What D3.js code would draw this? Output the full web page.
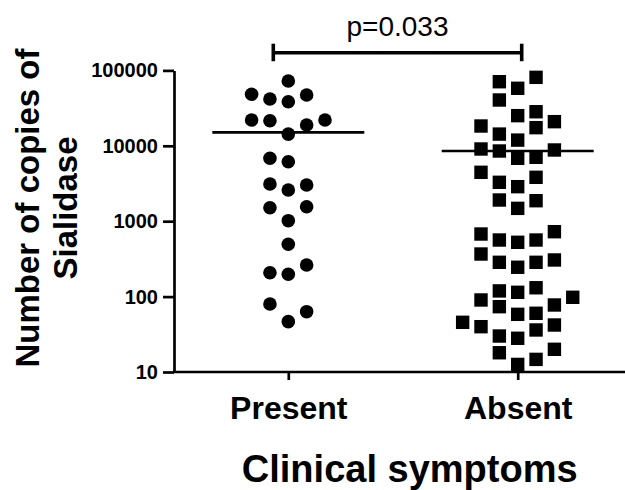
<!DOCTYPE html>
<html><head><meta charset="utf-8">
<script src="https://cdn.jsdelivr.net/npm/d3@7"></script>
<style>
body{margin:0;background:#fff;}
svg{display:block;}
text{font-family:"Liberation Sans",Arial,Helvetica,sans-serif;}
</style>
</head><body>
<script>
// ---- data ----
const categories = ["Present", "Absent"];
const presentValues = [72300, 48200, 41800, 38400, 47200, 22000, 21500, 18900, 22000, 14300,
  6830, 6150, 3110, 2590, 3020, 1510, 1016, 1556, 494, 207, 198, 262, 79.8, 46.5, 63.1];
const presentSlots = [0, -2, -1, 0, 1, -2, -1, 1, 2, 0,
  -1, 0, -1, 0, 1, -1, 0, 1, 0, -1, 0, 1, -1, 0, 1];
const absentValues = [70800, 57900, 80900, 40500, 25100, 28300, 20900, 18300, 14300, 17400,
  11900, 9070, 8530, 6830, 7040, 8800, 4450, 3280, 2870, 3820,
  1910, 1480, 1870, 676, 563, 525, 563, 726, 367, 285,
  245, 285, 306, 119, 114, 131, 90.2, 97.9, 73.5, 58.2,
  60.1, 77.4, 45.6, 39.9, 30.0, 28.0, 36.1, 42.0, 18.0, 12.6,
  14.7, 20.0];
const absentSlots = [-1, 0, 1, -1, 0, 1, 2, -2, -1, 1,
  0, -2, -1, 0, 1, 2, -2, -1, 0, 1,
  -1, 0, 1, -2, -1, 0, 1, 2, -2, -1,
  0, 1, 2, -1, 0, 1, -2, 3, -1, 0,
  1, 2, -3, -2, -1, 0, 1, 2, -1, 0,
  1, 2];
const meanValues = [15100, 8530];
const yTickValues = [10, 100, 1000, 10000, 100000];
const yTickLabels = ["10", "100", "1000", "10000", "100000"];
const pValueLabel = "p=0.033";
const xTitle = "Clinical symptoms";
const yTitleLines = ["Number of copies of", "Sialidase"];

// ---- layout ----
const W = 625, H = 490;
const svg = d3.select("body").append("svg").attr("width", W).attr("height", H);

const y = d3.scaleLog().domain([10, 100000]).range([372, 70.4]);
const x = d3.scalePoint().domain(categories).range([288.3, 517.7]);
const slot = d3.scaleLinear().domain([0, 1]).range([0, 18.35]);
const axisX0 = 174;

// Y axis
const yAxis = d3.axisLeft(y).tickValues(yTickValues)
  .tickFormat((d, i) => yTickLabels[i]).tickSize(11).tickSizeOuter(0).tickPadding(5);
const gy = svg.append("g").attr("transform", `translate(${axisX0},0)`).call(yAxis);
gy.select(".domain").attr("stroke", "#000").attr("stroke-width", 2.7);
gy.selectAll(".tick line").attr("stroke", "#000").attr("stroke-width", 2.7);
gy.selectAll(".tick text").attr("font-size", 20).attr("font-weight", "bold")
  .attr("fill", "#000").attr("font-family", '"Liberation Sans",Arial,sans-serif');

// X axis
svg.append("line").attr("x1", axisX0 - 1.3).attr("x2", W).attr("y1", y(10)).attr("y2", y(10))
  .attr("stroke", "#000").attr("stroke-width", 2.7);
const xAxis = d3.axisBottom(x).tickSize(8).tickSizeOuter(0);
const gx = svg.append("g").attr("transform", `translate(0,${y(10)})`).call(xAxis);
gx.select(".domain").remove();
gx.selectAll(".tick line").attr("stroke", "#000").attr("stroke-width", 2.7);
gx.selectAll(".tick text").attr("font-size", 32).attr("font-weight", "bold")
  .attr("fill", "#000").attr("y", 47.3).attr("dy", 0)
  .attr("font-family", '"Liberation Sans",Arial,sans-serif');

// Points
const presentData = presentValues.map((v, i) => ({v, s: presentSlots[i]}));
const absentData = absentValues.map((v, i) => ({v, s: absentSlots[i]}));

svg.append("g").selectAll("circle").data(presentData).join("circle")
  .attr("cx", d => x("Present") + slot(d.s))
  .attr("cy", d => y(d.v))
  .attr("r", 6.8).attr("fill", "#000");

const sq = 13.4;
svg.append("g").selectAll("rect").data(absentData).join("rect")
  .attr("x", d => x("Absent") + slot(d.s) - sq / 2)
  .attr("y", d => y(d.v) - sq / 2)
  .attr("width", sq).attr("height", sq).attr("fill", "#000");

// Mean lines
svg.append("g").selectAll("line").data(categories).join("line")
  .attr("x1", d => x(d) - 76).attr("x2", d => x(d) + 76)
  .attr("y1", (d, i) => y(meanValues[i])).attr("y2", (d, i) => y(meanValues[i]))
  .attr("stroke", "#000").attr("stroke-width", 2.7);

// Significance bracket
const bx1 = x("Present") - 15, bx2 = x("Absent") + 4, by = 52.7;
const br = svg.append("g").attr("stroke", "#000").attr("stroke-width", 3.6);
br.append("line").attr("x1", bx1).attr("x2", bx2).attr("y1", by).attr("y2", by);
br.append("line").attr("x1", bx1).attr("x2", bx1).attr("y1", by - 9).attr("y2", by + 8.5);
br.append("line").attr("x1", bx2).attr("x2", bx2).attr("y1", by - 9).attr("y2", by + 8.5);
svg.append("text").attr("x", (bx1 + bx2) / 2).attr("y", 36).attr("text-anchor", "middle")
  .attr("font-size", 28).attr("fill", "#000").text(pValueLabel);

// Titles
svg.append("text").attr("x", 409.7).attr("y", 481.7).attr("text-anchor", "middle")
  .attr("font-size", 38).attr("font-weight", "bold").attr("fill", "#000").text(xTitle);

const yt = svg.append("g").attr("transform", "translate(0,208) rotate(-90)");
yt.selectAll("text").data(yTitleLines).join("text")
  .attr("x", 0).attr("y", (d, i) => [39.3, 76.7][i])
  .attr("text-anchor", "middle").attr("font-size", 33).attr("font-weight", "bold")
  .attr("fill", "#000").text(d => d);
</script>
</body></html>
